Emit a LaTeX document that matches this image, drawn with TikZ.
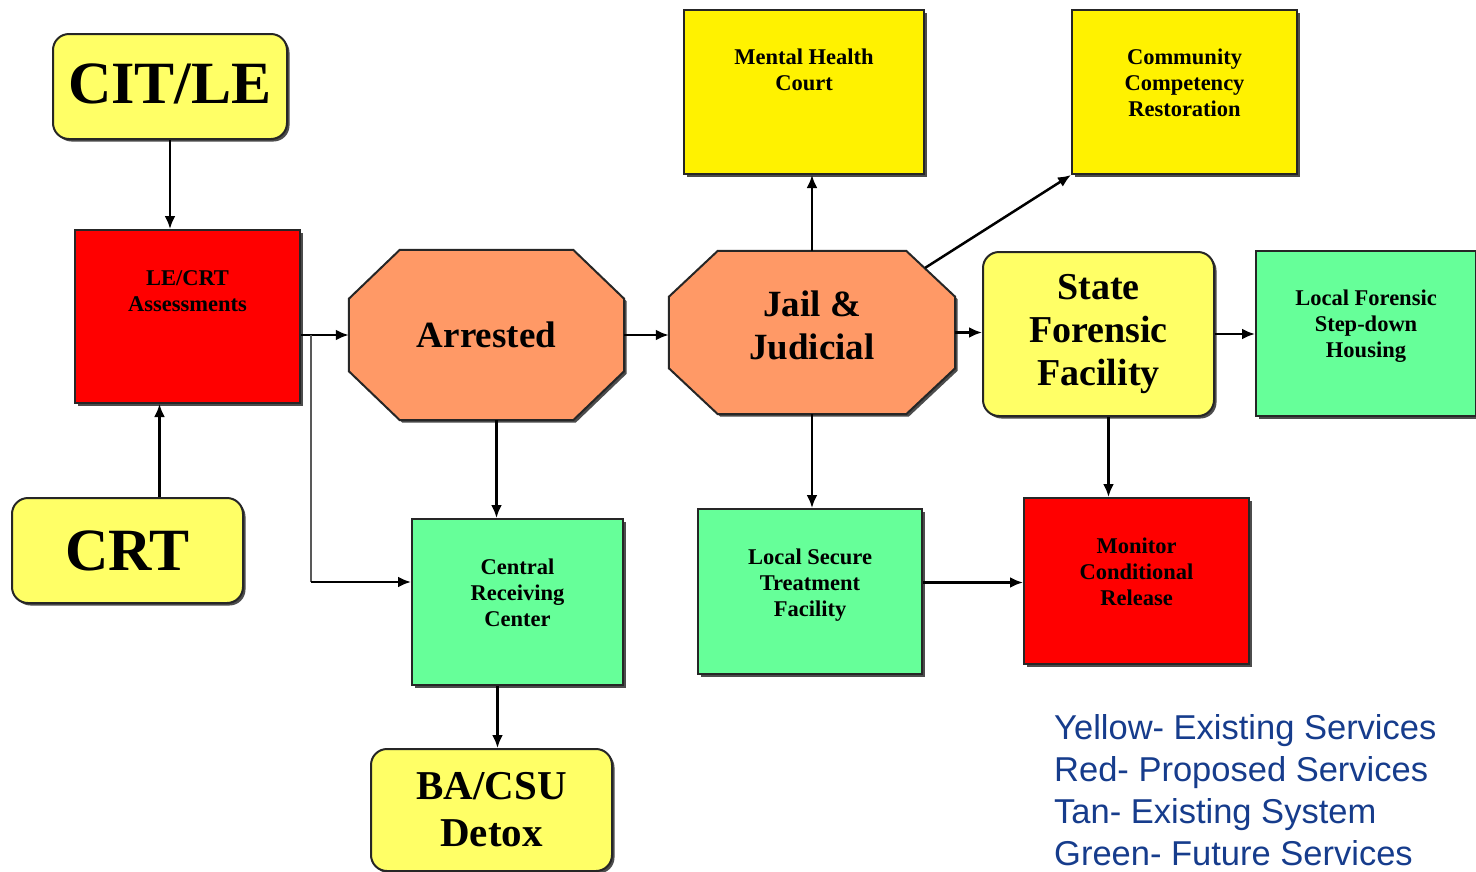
\documentclass[tikz,border=0pt]{standalone}
\usepackage{fontspec}
\setmainfont{Liberation Serif}
\newfontfamily\legendfont{Liberation Sans}
\usetikzlibrary{shadows,arrows.meta,positioning}
\definecolor{paleyellow}{HTML}{FFFF66}
\definecolor{tanfill}{HTML}{FF9966}
\definecolor{futuregreen}{HTML}{66FF99}
\definecolor{legendblue}{HTML}{163C8C}
\tikzset{
  box/.style      = { draw=black!85, line width=2pt, inner sep=0pt,
                      drop shadow={shadow xshift=2.5pt, shadow yshift=-2.5pt, fill=black!70, opacity=1} },
  sized/.style 2 args = { minimum width=#1, minimum height=#2 },
  existing/.style = { box, rounded corners=16pt, fill=paleyellow },
  court/.style    = { box, fill=yellow },
  proposed/.style = { box, fill=red },
  future/.style   = { box, fill=futuregreen },
  octagon/.style  = { box, fill=tanfill },
  huge/.style     = { font=\bfseries\fontsize{60}{60}\selectfont },
  big/.style      = { align=center, font=\bfseries\fontsize{38}{43}\selectfont },
  boxtext/.style  = { inner sep=0pt, align=center, font=\bfseries\fontsize{22.5}{26}\selectfont },
  link/.style     = { line width=2.5pt, -{Latex[length=13pt,width=11pt]} },
  key/.style      = { inner sep=0pt, align=left, text=legendblue,
                      font=\legendfont\fontsize{34.5}{42}\selectfont }
}
\begin{document}
\begin{tikzpicture}[x=1pt,y=-1pt]
  \useasboundingbox (0,0) rectangle (1476,871);
  % Draw all boxes
  \node[existing, huge, sized={234pt}{105pt}] (citle) at (170,86.5) {\raisebox{5pt}{CIT/LE}};
  \node[existing, huge, sized={231pt}{105pt}] (crt) at (127.5,550.5) {CRT};
  \node[proposed, sized={225pt}{173pt}] (lecrt) at (187.5,316.5) {};
  \node[sized={275pt}{170pt}] (arrested) at (486.5,335) {};
  \node[sized={286pt}{163pt}] (jail) at (812,332.5) {};
  \draw[octagon] ([xshift=51pt]arrested.north west) -- ([xshift=-51pt]arrested.north east)
    -- ([yshift=-49pt]arrested.north east) -- ([yshift=49pt]arrested.south east)
    -- ([xshift=-51pt]arrested.south east) -- ([xshift=51pt]arrested.south west)
    -- ([yshift=49pt]arrested.south west) -- ([yshift=-49pt]arrested.north west) -- cycle;
  \draw[octagon] ([xshift=49pt]jail.north west) -- ([xshift=-49pt]jail.north east)
    -- ([yshift=-46pt]jail.north east) -- ([yshift=46pt]jail.south east)
    -- ([xshift=-49pt]jail.south east) -- ([xshift=49pt]jail.south west)
    -- ([yshift=46pt]jail.south west) -- ([yshift=-46pt]jail.north west) -- cycle;
  \node[big, font=\bfseries\fontsize{37}{43}\selectfont] (arrestedtext) at (arrested.center) {Arrested};
  \node[big, font=\bfseries\fontsize{37}{43}\selectfont] (jailtext) at ([yshift=7pt]jail.center) {Jail \&\\Judicial};
  \node[court, sized={240pt}{164pt}] (mhc) at (804,92) {};
  \node[court, sized={225pt}{164pt}] (ccr) at (1184.5,92) {};
  \node[existing, big, sized={231pt}{164pt}] (sff) at (1098.5,334) {\raisebox{-2pt}{\begin{tabular}{@{}c@{}}State\\Forensic\\Facility\end{tabular}}};
  \node[future, sized={220pt}{165pt}] (lfsh) at (1366,333.5) {};
  \node[future, sized={211pt}{166pt}] (crc) at (517.5,602) {};
  \node[future, sized={224pt}{165pt}] (lstf) at (810,591.5) {};
  \node[proposed, sized={225pt}{166pt}] (mcr) at (1136.5,581) {};
  \node[existing, big, sized={241pt}{122pt}, font=\bfseries\fontsize{41}{47}\selectfont] (bacsu) at (491.5,810) {BA/CSU\\Detox};
  % Draw box texts
  \node[boxtext, below=41pt of lecrt.north] (lecrttext) {LE/CRT\\Assessments};
  \node[boxtext, below=40pt of mhc.north] (mhctext) {Mental Health\\Court};
  \node[boxtext, below=40pt of ccr.north] (ccrtext) {Community\\Competency\\Restoration};
  \node[boxtext, below=40pt of lfsh.north] (lfshtext) {Local Forensic\\Step-down\\Housing};
  \node[boxtext, below=41pt of crc.north] (crctext) {Central\\Receiving\\Center};
  \node[boxtext, below=41pt of lstf.north] (lstftext) {Local Secure\\Treatment\\Facility};
  \node[boxtext, below=41pt of mcr.north] (mcrtext) {Monitor\\Conditional\\Release};
  % Draw connections
  \coordinate (split) at ([xshift=10pt]lecrt.east |- arrested.west);
  \coordinate (corner) at ([yshift=20pt]split |- crc.west);
  \coordinate (chamfer) at ([xshift=-30pt,yshift=-17pt]jail.north east);
  \draw[link] (citle.south) -- (citle.south |- lecrt.north);
  \draw[link] ([xshift=32pt]crt.north) -- ([xshift=32pt]crt.north |- lecrt.south);
  \draw[link] (lecrt.east |- arrested.west) -- (arrested.west);
  \draw[line width=2pt, black!65] (split) -- (corner);
  \draw[link] (corner) -- (corner -| crc.west);
  \draw[link] ([xshift=10pt]arrested.south) -- ([xshift=10pt]arrested.south |- crc.north);
  \draw[link] (arrested.east) -- (arrested.east -| jail.west);
  \draw[link] (jail.north) -- (jail.north |- mhc.south);
  \draw[link] (chamfer) -- (ccr.south west);
  \draw[link] (jail.east) -- (jail.east -| sff.west);
  \draw[link] (sff.east) -- (sff.east -| lfsh.west);
  \draw[link] ([xshift=10pt]sff.south) -- ([xshift=10pt]sff.south |- mcr.north);
  \draw[link] (jail.south) -- (jail.south |- lstf.north);
  \draw[link] ([yshift=9pt]lstf.east) -- ([yshift=9pt]lstf.east -| mcr.west);
  \draw[link] ([xshift=-20pt]crc.south) -- ([xshift=-20pt]crc.south |- bacsu.north);
  % Draw legend
  \node[key, anchor=north west] (legend) at (1054,714) {Yellow- Existing Services\\Red- Proposed Services\\Tan- Existing System\\Green- Future Services};
\end{tikzpicture}
\end{document}
